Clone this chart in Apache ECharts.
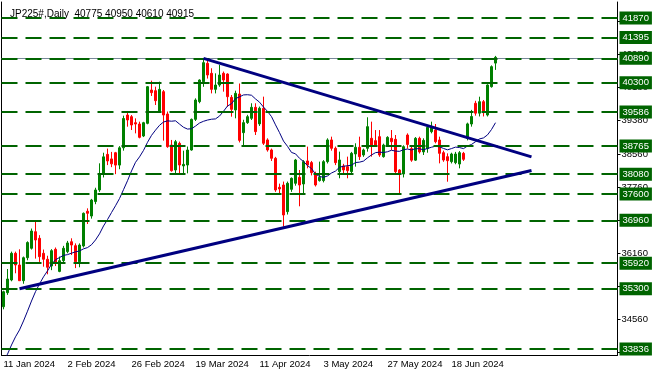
<!DOCTYPE html>
<html>
<head>
<meta charset="utf-8">
<title>JP225# Daily</title>
<script src="https://cdn.jsdelivr.net/npm/echarts@6.0.0/dist/echarts.min.js"></script>
<style>
  html, body { margin: 0; padding: 0; background: #fff; }
  #chart { width: 658px; height: 376px; }
</style>
</head>
<body>
<div id="chart"></div>
<script>
// daily bars, 11 Jan 2024 .. 4 Jul 2024
var opens = [
  34863, 35203, 35511, 36159, 35875, 35494, 36052, 36281, 36684, 36523,
  36159, 36014, 35851, 36256, 35720, 35980, 36200, 36440, 36344, 35955,
  36337, 37180, 37064, 37415, 37696, 38084, 38560, 38450, 38600, 38300,
  38720, 39515, 39475, 39329, 39297, 39006, 39313, 40122, 40106, 39613,
  40082, 39540, 38787, 38181, 38828, 38280, 38302, 38666, 39410, 39840,
  40324, 40770, 40527, 40138, 40243, 40527, 40510, 39944, 39637, 40025,
  39087, 39330, 39435, 39702, 39300, 39678, 38910, 38667, 38465, 37761,
  37817, 37170, 37712, 37858, 38003, 37842, 38400, 38360, 38084, 37923,
  37923, 38384, 38910, 38707, 38141, 38278, 38262, 38141, 38570, 38732,
  38545, 38707, 38950, 38893, 38990, 38504, 38787, 38949, 38925, 38181,
  38083, 39030, 38700, 38420, 38950, 38620, 38700, 39110, 39151, 38909,
  38601, 38504, 38383, 38359, 38326, 38585, 38950, 39297, 39800, 39560,
  39839, 39515, 40203, 40775
];
var closes = [
  35227, 35535, 36159, 35875, 35494, 36052, 36420, 36700, 36482, 36077,
  36014, 35820, 36223, 35948, 35980, 36281, 36410, 36360, 35955, 36360,
  37130, 37130, 37452, 37696, 38084, 38500, 38400, 38330, 38300, 38720,
  39430, 39394, 39273, 39297, 38973, 39329, 40203, 40058, 39863, 40138,
  39515, 38747, 38164, 38868, 38302, 38318, 38666, 39410, 39880, 40365,
  40786, 40486, 40138, 40243, 40486, 40365, 39960, 39653, 40041, 38900,
  39330, 39475, 39702, 39112, 39680, 38829, 38667, 38465, 37696, 37720,
  37089, 37858, 37979, 38424, 37817, 38384, 38303, 38117, 37817, 38003,
  38384, 38910, 38707, 38359, 38424, 38181, 38165, 38586, 38732, 38505,
  38667, 39233, 38788, 38788, 38545, 38787, 38973, 38868, 38140, 38083,
  38747, 38800, 38420, 38950, 38620, 38900, 39216, 39232, 38868, 38585,
  38423, 38407, 38569, 38569, 38601, 38440, 39300, 39480, 39560, 39839,
  39573, 40243, 40689, 40915
];
var lows = [
  34800, 35150, 35480, 35674, 35494, 35420, 35990, 36250, 36030, 35950,
  35834, 35650, 35750, 35850, 35700, 35900, 36160, 36117, 35800, 35820,
  36300, 36870, 37000, 37350, 37650, 38000, 38300, 38250, 38080, 38200,
  38650, 39232, 39151, 39070, 38949, 38980, 39290, 39977, 39758, 39572,
  38893, 38720, 38140, 38060, 38060, 38080, 38100, 38650, 39370, 39800,
  40200, 40400, 40040, 40040, 40200, 40082, 39718, 39475, 39435, 38850,
  38750, 39300, 39394, 39030, 39250, 38788, 38626, 38400, 37650, 37600,
  36806, 37100, 37650, 37800, 37300, 37600, 38222, 38050, 37780, 37900,
  37880, 38340, 38650, 38300, 37980, 38100, 37980, 38100, 38262, 38424,
  38500, 38626, 38505, 38750, 38500, 38480, 38760, 38666, 38100, 37600,
  38000, 38700, 38380, 38400, 38580, 38545, 38600, 39070, 38828, 38342,
  38380, 37897, 38340, 38320, 38221, 38400, 38900, 39233, 39500, 39480,
  39480, 39480, 40180, 40610
];
var highs = [
  35250, 35778, 36200, 36200, 36256, 36080, 36450, 36760, 36950, 36600,
  36250, 36100, 36260, 36300, 36080, 36340, 36460, 36523, 36400, 36400,
  37150, 37250, 37480, 37750, 38343, 38600, 38700, 38620, 38620, 38760,
  39500, 39613, 39515, 39434, 39354, 39350, 40220, 40349, 40203, 40325,
  40122, 39600, 38910, 38910, 38870, 38650, 38750, 39430, 39920, 40380,
  40890, 40850, 40650, 40527, 40729, 40570, 40527, 40000, 40106, 40280,
  39400, 39520, 39800, 39800, 39720, 39961, 38950, 38700, 38500, 37850,
  37900, 37900, 38000, 38450, 38181, 38420, 38748, 38400, 38140, 38384,
  38420, 38950, 38990, 38750, 38626, 38330, 38505, 38620, 38829, 38990,
  38700, 39460, 39354, 39150, 39150, 38820, 39000, 39151, 39030, 38200,
  38780, 39070, 38740, 38980, 38990, 38950, 39240, 39354, 39297, 38990,
  38650, 38585, 38600, 38620, 38640, 38620, 39330, 39640, 39860, 39960,
  39880, 40260, 40720, 40950
];

// closes before the first visible bar, only used to seed the average
var preCloses = [33150, 33050, 33100, 33150, 33000, 33100, 33250, 33300, 33450, 33600, 33800, 34000, 34400];
var maPeriod = 14;

// horizontal levels with their price boxes
var levels = [41870, 41395, 40890, 40300, 39586, 38765, 38080, 37600, 36960, 35920, 35300, 33836];
var bidPrice = 40890;

// trend lines: [bar index, price]
var trendDown = [[50, 40890], [132, 38500]];
var trendUp = [[4, 35300], [132, 38170]];

// axis labels
var priceTicks = [33760, 34560, 35360, 36160, 36960, 37760, 38560, 39380, 40180, 40980, 41780];
var dateTickIdx = [0, 16, 32, 48, 64, 80, 96, 112];
var dateTicks = ['11 Jan 2024', '2 Feb 2024', '26 Feb 2024', '19 Mar 2024', '11 Apr 2024', '3 May 2024', '27 May 2024', '18 Jun 2024'];
var totalSlots = 154; // bars plus empty space on the right

var FONT = 'Liberation Sans';

var slots = [];
for (var i = 0; i < totalSlots; i++) slots.push(String(i));

var candles = opens.map(function (o, i) {
  return [o, closes[i], lows[i], highs[i]];
});

// simple moving average of closes
var allCloses = preCloses.concat(closes);
var ma = closes.map(function (c, i) {
  var s = 0;
  for (var k = 0; k < maPeriod; k++) s += allCloses[i + preCloses.length - k];
  return Math.round(s / maPeriod);
});

var last = candles.length - 1;
var titleText = 'JP225#,Daily  ' + [opens[last], highs[last], lows[last], closes[last]].join(' ');

var myChart = echarts.init(document.getElementById('chart'));

var option = {
  animation: false,
  backgroundColor: '#fff',
  title: {
    text: titleText,
    left: 5,
    top: 4,
    textStyle: { fontFamily: FONT, fontSize: 10, fontWeight: 'normal', color: '#000' }
  },
  grid: { left: 1.5, right: 40.5, top: 2, bottom: 21 },
  xAxis: {
    type: 'category',
    data: slots,
    boundaryGap: true,
    axisLine: { lineStyle: { color: '#000', width: 1 } },
    axisTick: {
      alignWithLabel: true,
      length: 4,
      interval: function (idx) { return dateTickIdx.indexOf(idx) >= 0; },
      lineStyle: { color: '#000' }
    },
    axisLabel: {
      interval: function (idx) { return dateTickIdx.indexOf(idx) >= 0; },
      formatter: function (v, idx) {
        var k = dateTickIdx.indexOf(idx);
        return k >= 0 ? dateTicks[k] : '';
      },
      align: 'left',
      margin: 4,
      color: '#000',
      fontFamily: FONT,
      fontSize: 9.5
    },
    splitLine: { show: false }
  },
  yAxis: [
    {
      type: 'value',
      position: 'right',
      min: 33691,
      max: 42258,
      axisLine: { show: true, lineStyle: { color: '#000', width: 1 } },
      axisTick: { show: true, length: 3, customValues: priceTicks, lineStyle: { color: '#000' } },
      axisLabel: {
        customValues: priceTicks,
        formatter: function (v) { return String(v); },
        margin: 4,
        color: '#000',
        fontFamily: FONT,
        fontSize: 9.5
      },
      splitLine: { show: false }
    },
    {
      type: 'value',
      position: 'left',
      min: 33691,
      max: 42258,
      axisLine: { show: true, lineStyle: { color: '#000', width: 1 } },
      axisTick: { show: false },
      axisLabel: { show: false },
      splitLine: { show: false }
    }
  ],
  series: [
    {
      name: 'bid',
      type: 'line',
      data: [],
      z: 1,
      markLine: {
        silent: true,
        symbol: 'none',
        animation: false,
        label: { show: false },
        lineStyle: { color: '#778899', type: 'solid', width: 1 },
        data: [{ yAxis: bidPrice }]
      }
    },
    {
      name: 'JP225#',
      type: 'candlestick',
      data: candles,
      barWidth: 2,
      z: 2,
      itemStyle: {
        color: '#008000',
        color0: '#ff0000',
        borderColor: '#008000',
        borderColor0: '#ff0000',
        borderWidth: 1
      }
    },
    {
      name: 'levels',
      type: 'line',
      data: [],
      z: 3,
      markLine: {
        silent: true,
        symbol: 'none',
        animation: false,
        lineStyle: { color: '#006400', type: [16, 8], width: 2 },
        label: {
          show: true,
          position: 'end',
          distance: 2,
          formatter: function (p) { return p.value; },
          backgroundColor: '#006400',
          color: '#fff',
          fontFamily: FONT,
          fontSize: 9.5,
          padding: [2, 3, 1, 3]
        },
        data: levels.map(function (v) { return { yAxis: v }; })
      }
    },
    {
      name: 'MA',
      type: 'line',
      data: ma,
      showSymbol: false,
      symbol: 'none',
      z: 4,
      lineStyle: { color: '#000080', width: 1 }
    },
    {
      name: 'trendDown',
      type: 'line',
      data: trendDown,
      showSymbol: false,
      symbol: 'none',
      z: 5,
      lineStyle: { color: '#000080', width: 3 }
    },
    {
      name: 'trendUp',
      type: 'line',
      data: trendUp,
      showSymbol: false,
      symbol: 'none',
      z: 5,
      lineStyle: { color: '#000080', width: 3 }
    }
  ]
};

myChart.setOption(option);
</script>
</body>
</html>
